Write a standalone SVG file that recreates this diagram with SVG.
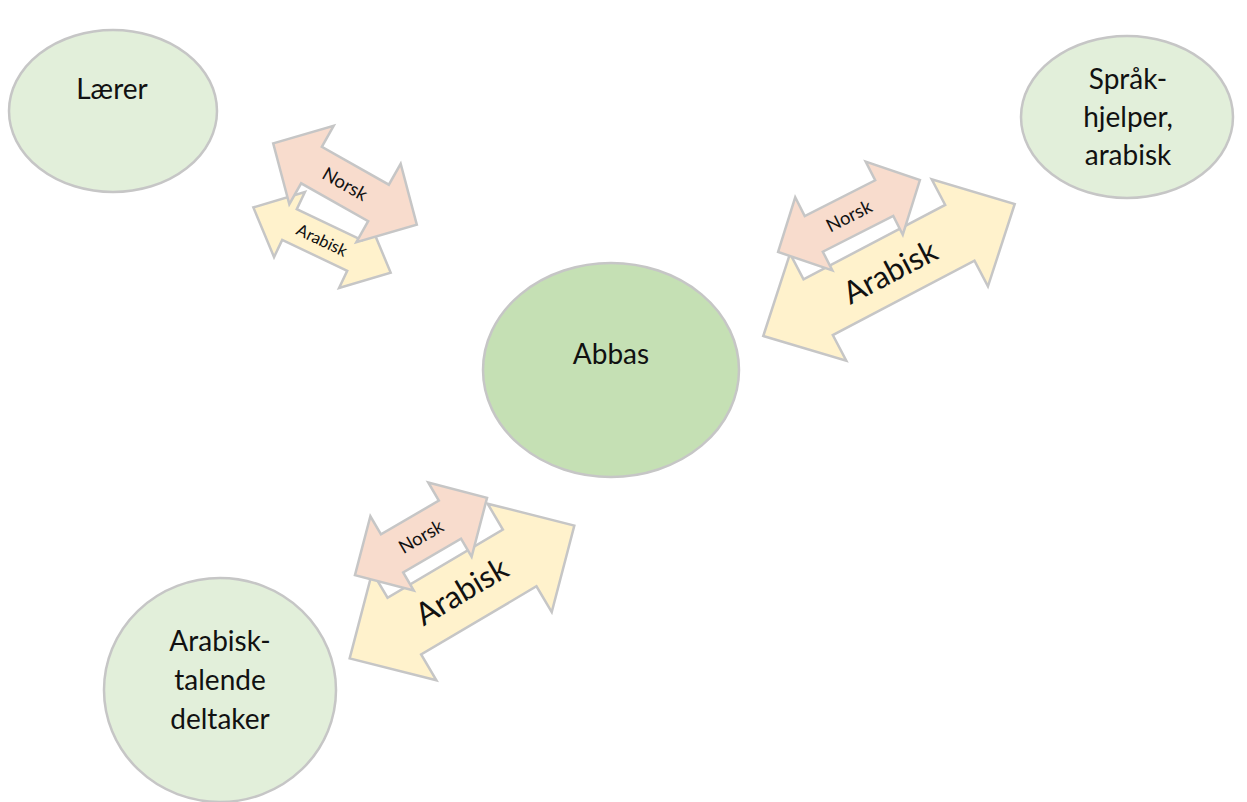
<svg xmlns="http://www.w3.org/2000/svg" width="1247" height="802" viewBox="0 0 1247 802">
  <style>
    .node-light { fill: #E2EFDA; stroke: #C6C6C6; stroke-width: 2.5; }
    .node-main { fill: #C5E0B4; stroke: #C6C6C6; stroke-width: 2.5; }
    .arrow-pink { fill: #F8DCCD; stroke: #C6C6C6; stroke-width: 2.5; stroke-linejoin: miter; }
    .arrow-yellow { fill: #FFF2CC; stroke: #C6C6C6; stroke-width: 2.5; stroke-linejoin: miter; }
    .label { font-family: Lato, "Open Sans", "Liberation Sans", sans-serif; fill: #111; text-anchor: middle; }
    .node-label { font-size: 28px; }
    .small { font-size: 18.5px; }
    .tiny { font-size: 16.5px; }
    .big { font-size: 31px; }
  </style>

  <rect width="1247" height="802" fill="#FFFFFF"/>

  <!-- double-headed block arrows, drawn in local coordinates -->
  <g id="connectors">
    <!-- Lærer <-> Abbas -->
    <g transform="translate(322,240) rotate(25.4)">
      <polygon class="arrow-yellow" points="-76,0 -36,-36 -36,-17 36,-17 36,-36 76,0 36,36 36,17 -36,17 -36,36"/>
      <text class="label tiny" x="0" y="6">Arabisk</text>
    </g>
    <g transform="translate(345,184) rotate(29.5)">
      <polygon class="arrow-pink" points="-82.5,0 -38.5,-45 -38.5,-21 38.5,-21 38.5,-45 82.5,0 38.5,45 38.5,21 -38.5,21 -38.5,45"/>
      <text class="label small" x="0" y="6.5">Norsk</text>
    </g>

    <!-- Abbas <-> Språkhjelper -->
    <g transform="translate(889,270) rotate(-27.7)">
      <polygon class="arrow-yellow" points="-142,0 -80,-60.5 -80,-31.5 80,-31.5 80,-60.5 142,0 80,60.5 80,31.5 -80,31.5 -80,60.5"/>
      <text class="label big" x="0" y="13">Arabisk</text>
    </g>
    <g transform="translate(849,216) rotate(-26.9)">
      <polygon class="arrow-pink" points="-79.5,0 -39.5,-41 -39.5,-20 39.5,-20 39.5,-41 79.5,0 39.5,41 39.5,20 -39.5,20 -39.5,41"/>
      <text class="label small" x="0" y="6.5">Norsk</text>
    </g>

    <!-- Arabisktalende deltaker <-> Abbas -->
    <g transform="translate(462,592) rotate(-30.6)">
      <polygon class="arrow-yellow" points="-130.5,0 -67,-63 -67,-33 67,-33 67,-63 130.5,0 67,63 67,33 -67,33 -67,63"/>
      <text class="label big" x="0" y="10">Arabisk</text>
    </g>
    <g transform="translate(421,536.5) rotate(-30.3)">
      <polygon class="arrow-pink" points="-76.5,0 -33.5,-43 -33.5,-22 33.5,-22 33.5,-43 76.5,0 33.5,43 33.5,22 -33.5,22 -33.5,43"/>
      <text class="label small" x="0" y="6.5">Norsk</text>
    </g>
  </g>

  <g id="node-laerer">
    <ellipse class="node-light" cx="113" cy="111" rx="104" ry="81"/>
    <text class="label node-label" x="112" y="99">Lærer</text>
  </g>

  <g id="node-sprakhjelper">
    <ellipse class="node-light" cx="1127" cy="117" rx="106" ry="81"/>
    <text class="label node-label" x="1128" y="89">Språk-</text>
    <text class="label node-label" x="1128" y="127">hjelper,</text>
    <text class="label node-label" x="1128" y="165">arabisk</text>
  </g>

  <g id="node-abbas">
    <ellipse class="node-main" cx="611" cy="370" rx="128" ry="107"/>
    <text class="label node-label" x="611" y="364">Abbas</text>
  </g>

  <g id="node-deltaker">
    <ellipse class="node-light" cx="220" cy="690" rx="116" ry="112"/>
    <text class="label node-label" x="220" y="651">Arabisk-</text>
    <text class="label node-label" x="220" y="690">talende</text>
    <text class="label node-label" x="220" y="729">deltaker</text>
  </g>
</svg>
